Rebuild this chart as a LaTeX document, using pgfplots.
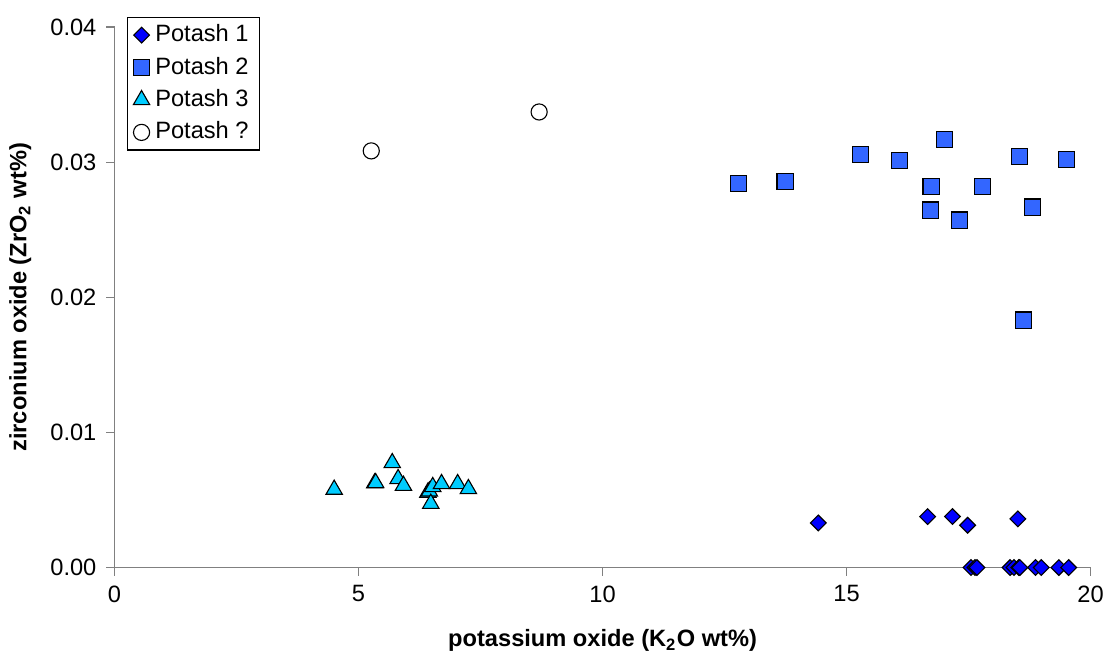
\documentclass[border=0pt]{standalone}
\usepackage{fontspec}
\setmainfont{Liberation Sans}
\usepackage{pgfplots}
\pgfplotsset{compat=1.18}
\definecolor{pone}{RGB}{0,0,255}
\definecolor{ptwo}{RGB}{51,102,255}
\definecolor{pthree}{RGB}{0,204,255}
\definecolor{axgray}{RGB}{128,128,128}
\begin{document}
\begin{tikzpicture}
\begin{axis}[
  scale only axis,
  width=351pt, height=194.4pt,
  xmin=0, xmax=20, ymin=0, ymax=0.04,
  xtick={0,5,10,15,20},
  ytick={0,0.01,0.02,0.03,0.04},
  axis x line*=bottom, axis y line*=left,
  axis line style={axgray, -},
  tick style={axgray, thin},
  tick align=outside, major tick length=3pt,
  clip=false,
  font=\fontsize{8.5}{10}\selectfont,
  tick label style={font=\fontsize{8.5}{10}\selectfont},
  /pgf/number format/assume math mode=true,
  yticklabel style={/pgf/number format/fixed, /pgf/number format/fixed zerofill, /pgf/number format/precision=2},
  scaled y ticks=false,
  xlabel={\bfseries potassium oxide (K\textsubscript{2}O wt\%)},
  ylabel={\bfseries zirconium oxide (ZrO\textsubscript{2} wt\%)},
  xlabel style={yshift=-3pt},
  legend style={at={(0.013,1.0185)}, anchor=north west, draw=black, thin,
    font=\fontsize{8.5}{10}\selectfont, row sep=0pt, inner xsep=2pt, inner ysep=0.5pt},
  legend cell align=left,
  legend image code/.code={\draw[#1] plot coordinates {(0.12cm,0cm)};},
]
\addplot[only marks, mark=square*, mark size=2pt, mark options={rotate=45, fill=pone, draw=black, thin}] coordinates {
  (14.42,0.00330)(16.66,0.00377)(17.17,0.00377)(17.48,0.00313)(18.51,0.00360)
  (17.55,0)(17.63,0)(17.67,0)(18.35,0)(18.43,0)(18.53,0)(18.55,0)
  (18.87,0)(18.99,0)(19.35,0)(19.55,0)
};
\addlegendentry{Potash 1}
\addplot[only marks, mark=square*, mark size=2.9pt, mark options={fill=ptwo, draw=black, thin}] coordinates {
  (12.78,0.02844)(13.74,0.02854)(15.28,0.03059)(16.08,0.03014)(17.00,0.03165)
  (16.73,0.02822)(16.72,0.02645)(17.32,0.02571)(17.78,0.02822)(18.54,0.03044)
  (19.51,0.03017)(18.81,0.02667)(18.62,0.01831)
};
\addlegendentry{Potash 2}
\addplot[only marks, mark=triangle*, mark size=3.4pt, mark options={fill=pthree, draw=black, thin}] coordinates {
  (4.50,0.00577)(5.33,0.00624)(5.35,0.00626)(5.69,0.00774)(5.81,0.00656)
  (5.92,0.00606)(6.42,0.00555)(6.45,0.00564)(6.52,0.00597)(6.48,0.00473)
  (6.70,0.00619)(7.03,0.00619)(7.25,0.00582)
};
\addlegendentry{Potash 3}
\addplot[only marks, mark=o, mark size=2.9pt, mark options={fill=white, draw=black, thin}] coordinates {
  (5.26,0.03083)(8.70,0.03371)
};
\addlegendentry{Potash ?}
\path (rel axis cs:0,1) -- ++(0,9.7pt);
\end{axis}
\end{tikzpicture}
\end{document}
